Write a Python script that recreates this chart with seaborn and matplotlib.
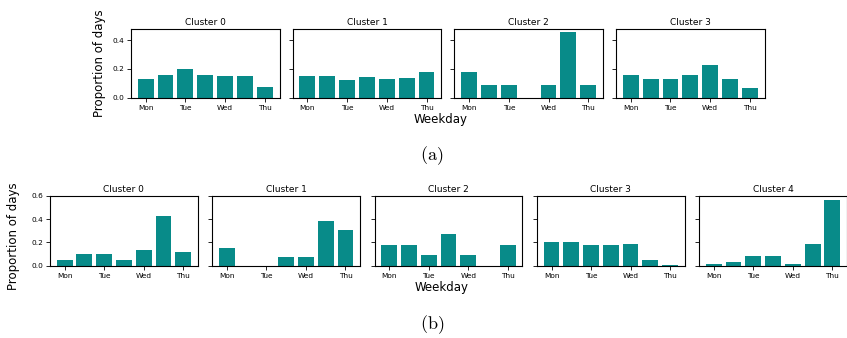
import matplotlib
matplotlib.use("Agg")
import matplotlib.pyplot as plt
import seaborn as sns
import numpy as np
import pandas as pd

# ---- data ----
days = ["Mon", "Tue", "Wed", "Thu", "Fri", "Sat", "Sun"]
tick_labels = ["Mon", "Tue", "Wed", "Thu"]

# (a) four clusters
a_cluster0 = [0.130, 0.157, 0.200, 0.157, 0.150, 0.150, 0.074]
a_cluster1 = [0.151, 0.151, 0.123, 0.144, 0.130, 0.137, 0.179]
a_cluster2 = [0.182, 0.091, 0.091, 0.0, 0.091, 0.455, 0.091]
a_cluster3 = [0.161, 0.129, 0.129, 0.161, 0.226, 0.129, 0.065]

# (b) five clusters
b_cluster0 = [0.049, 0.100, 0.100, 0.049, 0.135, 0.428, 0.118]
b_cluster1 = [0.154, 0.0, 0.0, 0.077, 0.077, 0.385, 0.308]
b_cluster2 = [0.182, 0.182, 0.091, 0.273, 0.091, 0.0, 0.182]
b_cluster3 = [0.204, 0.204, 0.178, 0.178, 0.187, 0.049, 0.004]
b_cluster4 = [0.014, 0.032, 0.083, 0.083, 0.014, 0.187, 0.566]

rows_a = [a_cluster0, a_cluster1, a_cluster2, a_cluster3]
rows_b = [b_cluster0, b_cluster1, b_cluster2, b_cluster3, b_cluster4]

BAR = "#088b89"
W, H = 847, 338

plt.rcParams["font.family"] = ["DejaVu Sans"]
plt.rcParams["mathtext.fontset"] = "cm"

fig = plt.figure(figsize=(W / 100, H / 100), dpi=100)


def px_axes(left, top, width, height):
    return fig.add_axes([left / W, 1 - (top + height) / H, width / W, height / H])


def draw_row(rows, left0, step, width, top, height, ymax_ticks):
    axes = []
    for i, vals in enumerate(rows):
        ax = px_axes(left0 + i * step, top, width, height)
        df = pd.DataFrame({"day": days, "prop": vals})
        sns.barplot(data=df, x="day", y="prop", ax=ax, color=BAR,
                    saturation=1, width=0.8, errorbar=None)
        ax.set_xlim(-0.74, 6.74)
        axes.append(ax)
    ymax = max(max(v) for v in rows) * 1.05
    for i, ax in enumerate(axes):
        ax.set_ylim(0, ymax)
        ax.set_yticks(ymax_ticks)
        if i == 0:
            ax.set_yticklabels([f"{t:.1f}" for t in ymax_ticks])
        else:
            ax.set_yticklabels([])
        ax.set_xticks([0, 2, 4, 6])
        ax.set_xticklabels(tick_labels)
        ax.set_xlabel("")
        ax.set_ylabel("")
        ax.set_title(f"Cluster {i}", fontsize=6.5, pad=3)
        ax.tick_params(axis="both", labelsize=5.3, length=3, width=0.6,
                       pad=2, colors="black")
        for sp in ax.spines.values():
            sp.set_linewidth(0.8)
            sp.set_color("black")
    return axes


draw_row(rows_a, 131, 161.7, 148.5, 29, 68.7, [0.0, 0.2, 0.4])
draw_row(rows_b, 50, 162.3, 147.8, 196, 69.7, [0.0, 0.2, 0.4, 0.6])

# labels
fig.text(99 / W, 1 - 63 / H, "Proportion of days", rotation=90,
         ha="center", va="center", fontsize=8.5)
fig.text(13 / W, 1 - 236 / H, "Proportion of days", rotation=90,
         ha="center", va="center", fontsize=8.5)
fig.text(441 / W, 1 - 119 / H, "Weekday", ha="center", va="center", fontsize=8.5)
fig.text(442 / W, 1 - 287 / H, "Weekday", ha="center", va="center", fontsize=8.5)
fig.text(432 / W, 1 - 156 / H, r"$\mathrm{(a)}$", ha="center", va="center", fontsize=13)
fig.text(432 / W, 1 - 325 / H, r"$\mathrm{(b)}$", ha="center", va="center", fontsize=13)

fig.savefig("out.png", dpi=100)
